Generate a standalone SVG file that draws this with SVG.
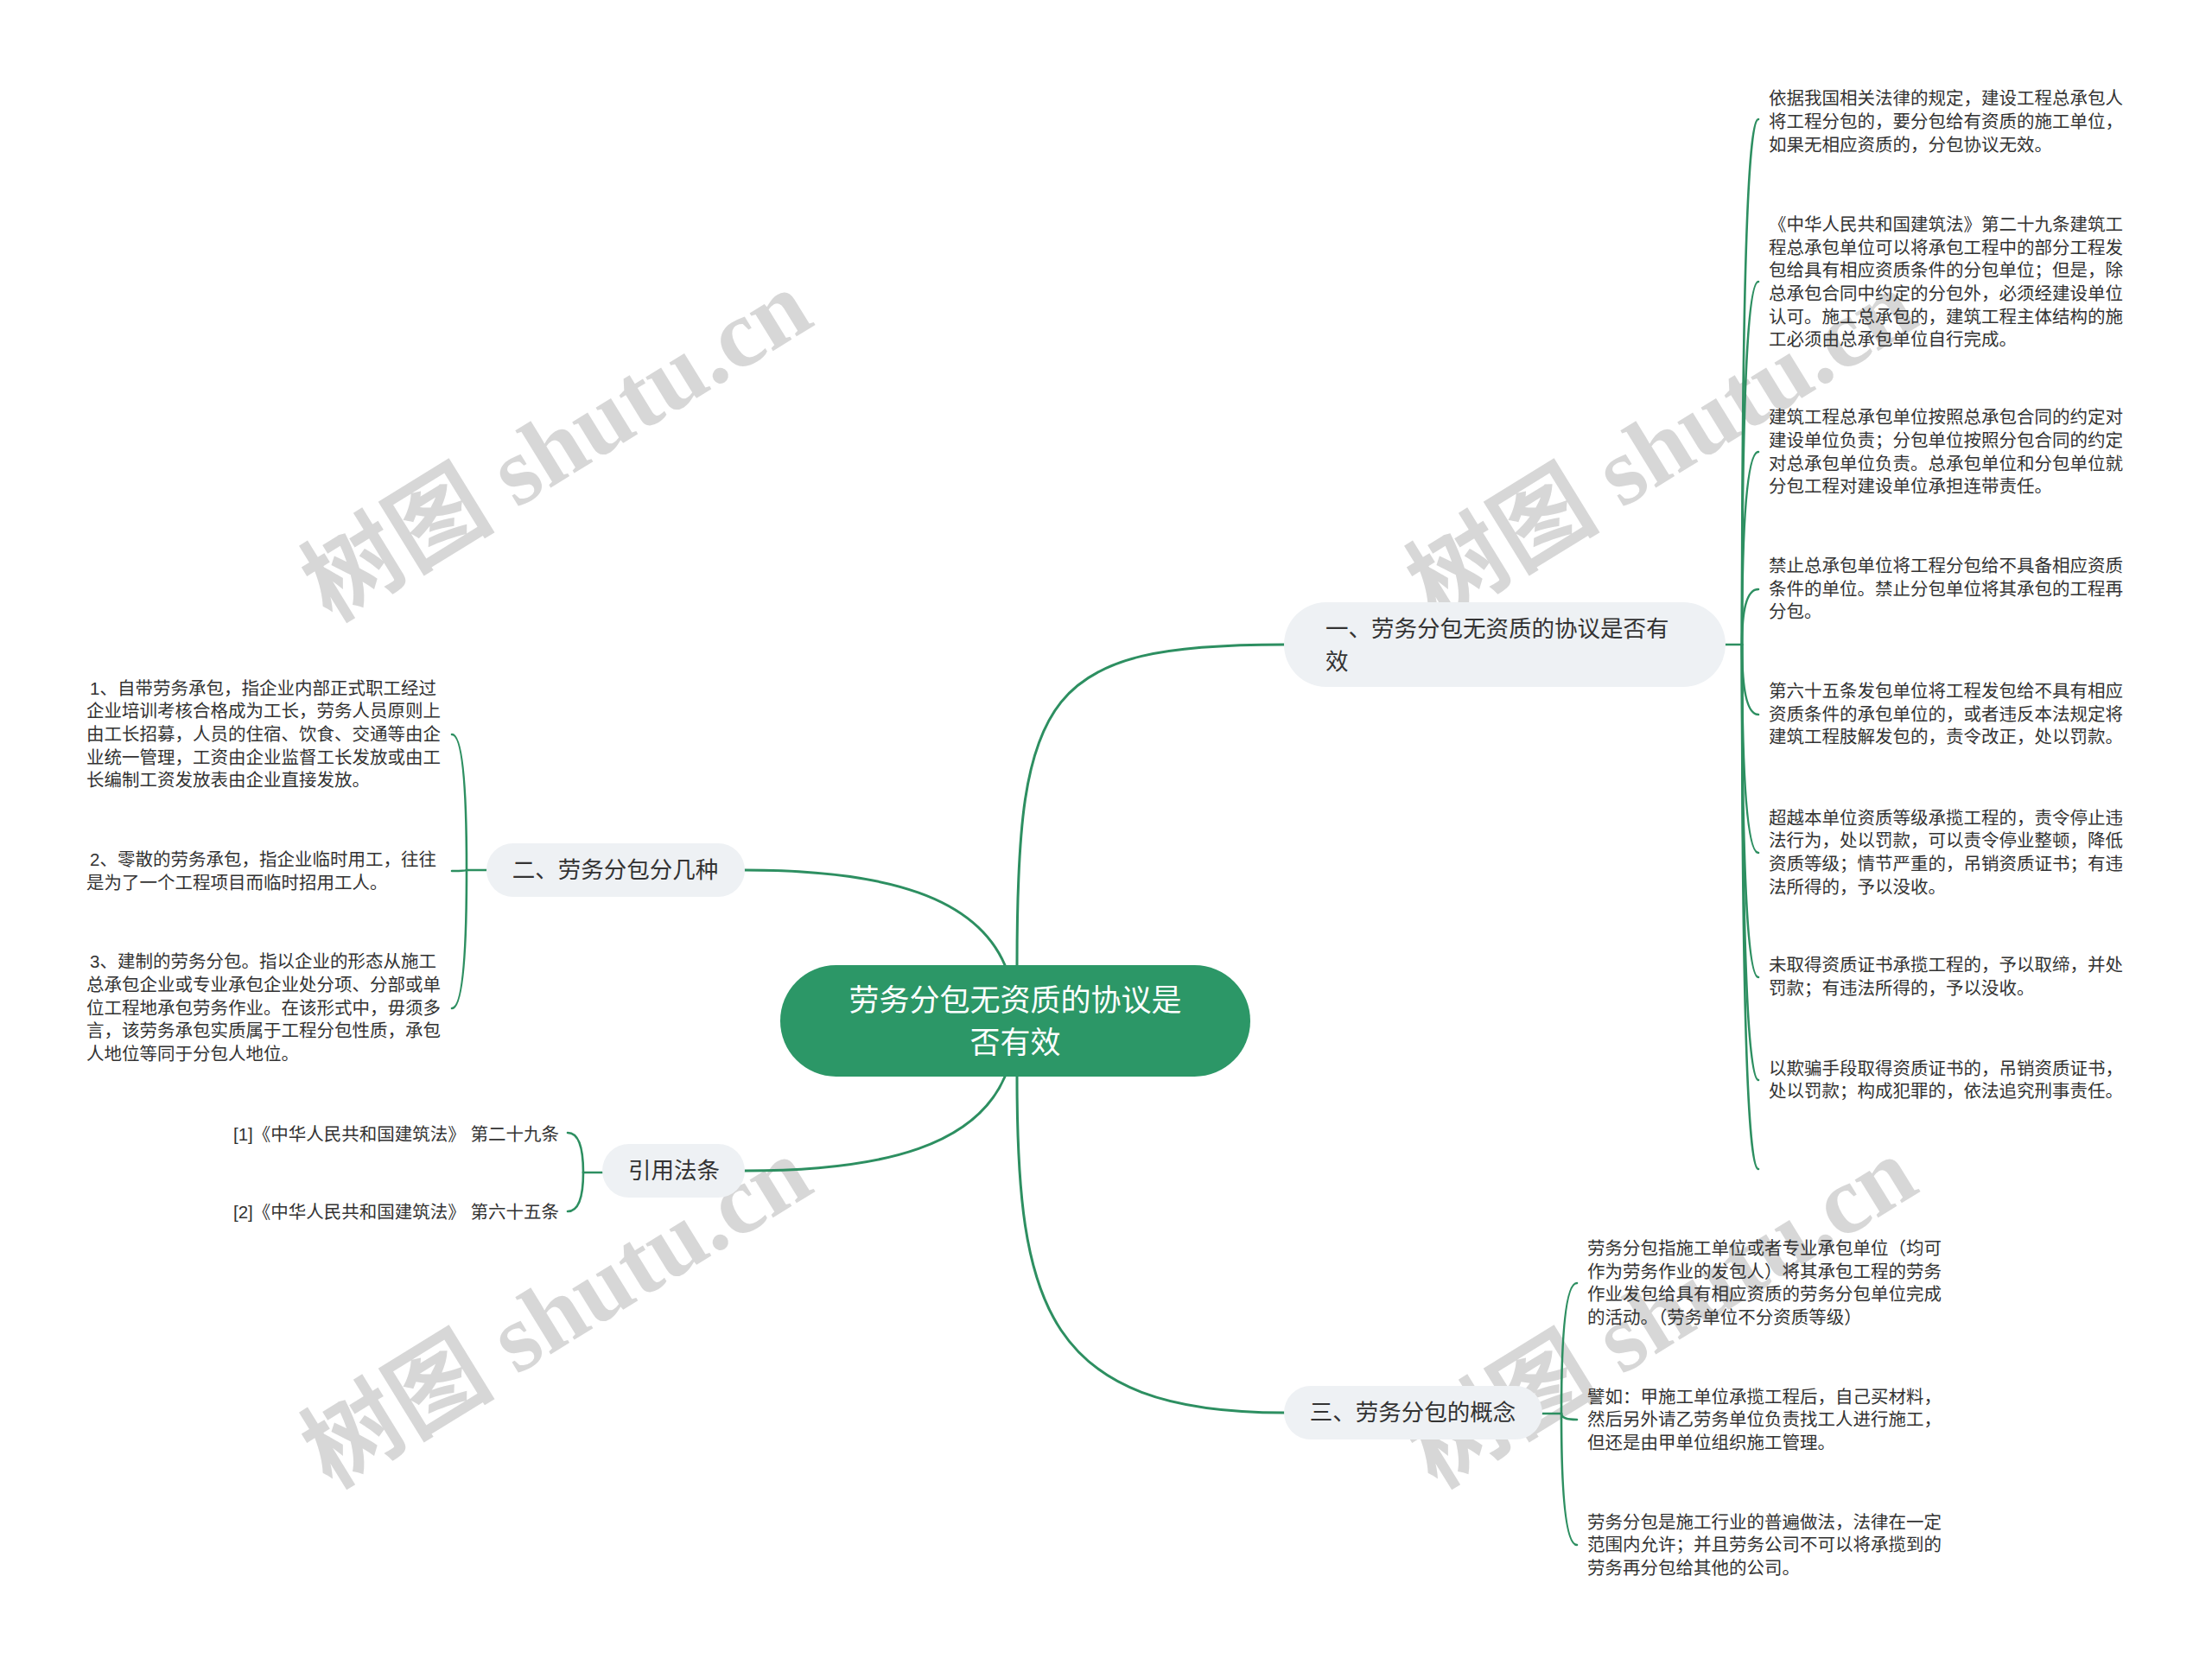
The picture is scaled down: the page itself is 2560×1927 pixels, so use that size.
<svg xmlns="http://www.w3.org/2000/svg" width="2560" height="1927" viewBox="0 0 2560 1927">
<style>
.wm{font-family:"Liberation Serif","Noto Sans CJK SC",serif;font-weight:bold;font-size:112px;fill:#a8a8a8;opacity:0.45}
.conn{fill:none;stroke:#2d8f61;stroke-width:3;stroke-linecap:round}
.sub{fill:none;stroke:#2d8f61;stroke-width:2.6;stroke-linecap:round}
.root{fill:#2c9767}
.roott{font-family:"Liberation Sans","Noto Sans CJK SC",sans-serif;font-size:35px;fill:#ffffff;text-anchor:middle}
.l1{fill:#eef1f4}
.l1t{font-family:"Liberation Sans","Noto Sans CJK SC",sans-serif;font-size:26.5px;fill:#333333}
.leaf{font-family:"Liberation Sans","Noto Sans CJK SC",sans-serif;font-size:20.5px;fill:#333333}
</style>
<rect x="0" y="0" width="2560" height="1927" fill="#ffffff"/>
<g id="watermarks">
<text class="wm" text-anchor="middle" transform="translate(664,548) rotate(-31.6)">树图 shutu.cn</text>
<text class="wm" text-anchor="middle" transform="translate(1943,548) rotate(-31.6)">树图 shutu.cn</text>
<text class="wm" text-anchor="middle" transform="translate(664,1551) rotate(-31.6)">树图 shutu.cn</text>
<text class="wm" text-anchor="middle" transform="translate(1943,1551) rotate(-31.6)">树图 shutu.cn</text>
</g>
<g id="connectors">
<path class="conn" d="M1177,1117 C1177,800 1210,746 1486,746"/>
<path class="conn" d="M1163,1117 C1130,1040 1030,1007 862,1007"/>
<path class="conn" d="M1163,1246 C1130,1323 1030,1355 862,1355"/>
<path class="conn" d="M1177,1246 C1177,1510 1210,1635 1486,1635"/>
<path class="sub" d="M1997,746 L2016,746"/>
<path class="sub" d="M2016,746 Q2016,138 2035,138"/>
<path class="sub" d="M2016,746 Q2016,326 2035,326"/>
<path class="sub" d="M2016,746 Q2016,523 2035,523"/>
<path class="sub" d="M2016,746 Q2016,682 2035,682"/>
<path class="sub" d="M2016,746 Q2016,827 2035,827"/>
<path class="sub" d="M2016,746 Q2016,987 2035,987"/>
<path class="sub" d="M2016,746 Q2016,1131 2035,1131"/>
<path class="sub" d="M2016,746 Q2016,1250 2035,1250"/>
<path class="sub" d="M2016,746 Q2016,1353 2035,1353"/>
<path class="sub" d="M563,1007 L540,1007"/>
<path class="sub" d="M540,1007 Q540,850 523,850"/>
<path class="sub" d="M540,1007 Q540,1008 523,1008"/>
<path class="sub" d="M540,1007 Q540,1167 523,1167"/>
<path class="sub" d="M697,1357 L675,1357"/>
<path class="sub" d="M675,1357 Q675,1311 657,1311"/>
<path class="sub" d="M675,1357 Q675,1402 657,1402"/>
<path class="sub" d="M1785,1636 L1807,1636"/>
<path class="sub" d="M1807,1636 Q1807,1485 1825,1485"/>
<path class="sub" d="M1807,1636 Q1807,1643 1825,1643"/>
<path class="sub" d="M1807,1636 Q1807,1788 1825,1788"/>
</g>
<g id="root">
<rect class="root" x="903" y="1117" width="544" height="129" rx="64.5"/>
<text class="roott" x="1175" y="1170">劳务分包无资质的协议是</text>
<text class="roott" x="1175" y="1219">否有效</text>
</g>
<g id="node1">
<rect class="l1" x="1486" y="697" width="511" height="98" rx="49"/>
<text class="l1t" x="1534" y="737">一、劳务分包无资质的协议是否有</text>
<text class="l1t" x="1534" y="775">效</text>
</g>
<g id="node2">
<rect class="l1" x="563" y="976" width="299" height="62" rx="31"/>
<text class="l1t" x="712" y="1016" text-anchor="middle">二、劳务分包分几种</text>
</g>
<g id="node-ref">
<rect class="l1" x="697" y="1324" width="165" height="62" rx="31"/>
<text class="l1t" x="780" y="1364" text-anchor="middle">引用法条</text>
</g>
<g id="node3">
<rect class="l1" x="1486" y="1604" width="299" height="62" rx="31"/>
<text class="l1t" x="1635" y="1644" text-anchor="middle">三、劳务分包的概念</text>
</g>
<g id="n1c1"><text class="leaf" x="2047"><tspan x="2047" y="121">依据我国相关法律的规定，建设工程总承包人</tspan><tspan x="2047" y="148">将工程分包的，要分包给有资质的施工单位，</tspan><tspan x="2047" y="175">如果无相应资质的，分包协议无效。</tspan></text></g>
<g id="n1c2"><text class="leaf"><tspan x="2047" y="267">《中华人民共和国建筑法》第二十九条建筑工</tspan><tspan x="2047" y="294">程总承包单位可以将承包工程中的部分工程发</tspan><tspan x="2047" y="320">包给具有相应资质条件的分包单位；但是，除</tspan><tspan x="2047" y="347">总承包合同中约定的分包外，必须经建设单位</tspan><tspan x="2047" y="374">认可。施工总承包的，建筑工程主体结构的施</tspan><tspan x="2047" y="400">工必须由总承包单位自行完成。</tspan></text></g>
<g id="n1c3"><text class="leaf"><tspan x="2047" y="490">建筑工程总承包单位按照总承包合同的约定对</tspan><tspan x="2047" y="517">建设单位负责；分包单位按照分包合同的约定</tspan><tspan x="2047" y="544">对总承包单位负责。总承包单位和分包单位就</tspan><tspan x="2047" y="570">分包工程对建设单位承担连带责任。</tspan></text></g>
<g id="n1c4"><text class="leaf"><tspan x="2047" y="662">禁止总承包单位将工程分包给不具备相应资质</tspan><tspan x="2047" y="689">条件的单位。禁止分包单位将其承包的工程再</tspan><tspan x="2047" y="715">分包。</tspan></text></g>
<g id="n1c5"><text class="leaf"><tspan x="2047" y="807">第六十五条发包单位将工程发包给不具有相应</tspan><tspan x="2047" y="834">资质条件的承包单位的，或者违反本法规定将</tspan><tspan x="2047" y="860">建筑工程肢解发包的，责令改正，处以罚款。</tspan></text></g>
<g id="n1c6"><text class="leaf"><tspan x="2047" y="954">超越本单位资质等级承揽工程的，责令停止违</tspan><tspan x="2047" y="980">法行为，处以罚款，可以责令停业整顿，降低</tspan><tspan x="2047" y="1007">资质等级；情节严重的，吊销资质证书；有违</tspan><tspan x="2047" y="1034">法所得的，予以没收。</tspan></text></g>
<g id="n1c7"><text class="leaf"><tspan x="2047" y="1124">未取得资质证书承揽工程的，予以取缔，并处</tspan><tspan x="2047" y="1151">罚款；有违法所得的，予以没收。</tspan></text></g>
<g id="n1c8"><text class="leaf"><tspan x="2047" y="1244">以欺骗手段取得资质证书的，吊销资质证书，</tspan><tspan x="2047" y="1270">处以罚款；构成犯罪的，依法追究刑事责任。</tspan></text></g>
<g id="n2c1"><text class="leaf"><tspan x="104" y="804">1、自带劳务承包，指企业内部正式职工经过</tspan><tspan x="100" y="830">企业培训考核合格成为工长，劳务人员原则上</tspan><tspan x="100" y="857">由工长招募，人员的住宿、饮食、交通等由企</tspan><tspan x="100" y="884">业统一管理，工资由企业监督工长发放或由工</tspan><tspan x="100" y="910">长编制工资发放表由企业直接发放。</tspan></text></g>
<g id="n2c2"><text class="leaf"><tspan x="104" y="1002">2、零散的劳务承包，指企业临时用工，往往</tspan><tspan x="100" y="1029">是为了一个工程项目而临时招用工人。</tspan></text></g>
<g id="n2c3"><text class="leaf"><tspan x="104" y="1120">3、建制的劳务分包。指以企业的形态从施工</tspan><tspan x="100" y="1147">总承包企业或专业承包企业处分项、分部或单</tspan><tspan x="100" y="1174">位工程地承包劳务作业。在该形式中，毋须多</tspan><tspan x="100" y="1200">言，该劳务承包实质属于工程分包性质，承包</tspan><tspan x="100" y="1227">人地位等同于分包人地位。</tspan></text></g>
<g id="ref1"><text class="leaf" x="647" y="1320" text-anchor="end">[1]《中华人民共和国建筑法》 第二十九条</text></g>
<g id="ref2"><text class="leaf" x="647" y="1410" text-anchor="end">[2]《中华人民共和国建筑法》 第六十五条</text></g>
<g id="n3c1"><text class="leaf"><tspan x="1837" y="1452">劳务分包指施工单位或者专业承包单位（均可</tspan><tspan x="1837" y="1479">作为劳务作业的发包人）将其承包工程的劳务</tspan><tspan x="1837" y="1505">作业发包给具有相应资质的劳务分包单位完成</tspan><tspan x="1837" y="1532">的活动。（劳务单位不分资质等级）</tspan></text></g>
<g id="n3c2"><text class="leaf"><tspan x="1837" y="1624">譬如：甲施工单位承揽工程后，自己买材料，</tspan><tspan x="1837" y="1650">然后另外请乙劳务单位负责找工人进行施工，</tspan><tspan x="1837" y="1677">但还是由甲单位组织施工管理。</tspan></text></g>
<g id="n3c3"><text class="leaf"><tspan x="1837" y="1769">劳务分包是施工行业的普遍做法，法律在一定</tspan><tspan x="1837" y="1795">范围内允许；并且劳务公司不可以将承揽到的</tspan><tspan x="1837" y="1822">劳务再分包给其他的公司。</tspan></text></g>
</svg>
